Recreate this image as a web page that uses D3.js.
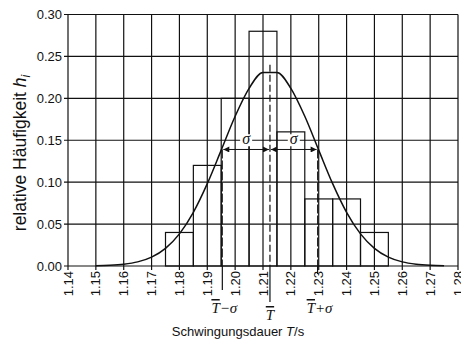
<!DOCTYPE html>
<html>
<head>
<meta charset="utf-8">
<script src="https://cdn.jsdelivr.net/npm/d3@7"></script>
<style>
  body { margin: 0; background: #fff; }
  svg { display: block; }
  text { font-family: "Liberation Sans", Arial, sans-serif; fill: #111; }
  .serif { font-family: "Liberation Serif", "Times New Roman", serif; font-style: italic; }
</style>
</head>
<body>
<div id="chart"></div>
<script>
// histogram: class centres and relative frequency
const binCenters = [1.18, 1.19, 1.20, 1.21, 1.22, 1.23, 1.24, 1.25];
const binFreq = [0.04, 0.12, 0.20, 0.28, 0.16, 0.08, 0.08, 0.04];
const binWidth = 0.01;

// fitted normal curve
const curveT = [1.150, 1.155, 1.160, 1.165, 1.170, 1.175, 1.180, 1.185, 1.190, 1.195,
                1.200, 1.205, 1.210, 1.215, 1.220, 1.225, 1.230, 1.235, 1.240, 1.245,
                1.250, 1.255, 1.260, 1.265, 1.270, 1.275];
const curveH = [0.0003, 0.0008, 0.0021, 0.0049, 0.0106, 0.0211, 0.0383, 0.0640, 0.0982, 0.1382,
                0.1786, 0.2119, 0.2308, 0.2308, 0.2119, 0.1786, 0.1382, 0.0982, 0.0640, 0.0383,
                0.0211, 0.0106, 0.0049, 0.0021, 0.0008, 0.0003];

const meanT = 1.2125;
const sigma = 0.0171;
const arrowLevel = 0.139;
const meanTop = 0.24;

const xTicks = d3.range(1.14, 1.2801, 0.01);
const yTicks = [0.00, 0.05, 0.10, 0.15, 0.20, 0.25, 0.30];

const width = 461, height = 342;
const svg = d3.select('#chart').append('svg')
    .attr('width', width)
    .attr('height', height);

const xs = d3.scaleLinear().domain([1.14, 1.28]).range([68, 458]);
const ys = d3.scaleLinear().domain([0, 0.30]).range([266, 14.5]);

const ink = '#111';

// grid
svg.append('g').selectAll('line.vg')
    .data(xTicks)
    .enter().append('line')
    .attr('x1', d => xs(d)).attr('x2', d => xs(d))
    .attr('y1', ys(0.30)).attr('y2', ys(0) + 4)
    .style('stroke', ink).style('stroke-width', '1.2px');

svg.append('g').selectAll('line.hg')
    .data(yTicks)
    .enter().append('line')
    .attr('x1', xs(1.14) - 4).attr('x2', xs(1.28))
    .attr('y1', d => ys(d)).attr('y2', d => ys(d))
    .style('stroke', ink).style('stroke-width', '1.2px');

// y tick labels
svg.append('g').selectAll('text')
    .data(yTicks)
    .enter().append('text')
    .attr('x', xs(1.14) - 6)
    .attr('y', d => ys(d))
    .attr('dy', '0.35em')
    .style('text-anchor', 'end')
    .style('font-size', '13px')
    .text(d => d3.format('.2f')(d));

// x tick labels, rotated
svg.append('g').selectAll('text')
    .data(xTicks)
    .enter().append('text')
    .attr('transform', d => 'translate(' + xs(d) + ',' + (ys(0) + 5) + ') rotate(-90)')
    .attr('dy', '0.35em')
    .style('text-anchor', 'end')
    .style('font-size', '13px')
    .text(d => d3.format('.2f')(d));

// histogram bars (outline only)
svg.append('g').selectAll('rect')
    .data(binCenters)
    .enter().append('rect')
    .attr('x', d => xs(d - binWidth / 2))
    .attr('width', d => xs(d + binWidth / 2) - xs(d - binWidth / 2))
    .attr('y', (d, i) => ys(binFreq[i]))
    .attr('height', (d, i) => ys(0) - ys(binFreq[i]))
    .style('fill', 'none')
    .style('stroke', ink)
    .style('stroke-width', '1.2px');

// normal curve
const curvePts = curveT.map((t, i) => [t, curveH[i]]);
const lineGenerator = d3.line()
    .x(d => xs(d[0]))
    .y(d => ys(d[1]))
    .curve(d3.curveMonotoneX);

svg.append('path')
    .datum(curvePts)
    .attr('d', lineGenerator)
    .style('fill', 'none')
    .style('stroke', ink)
    .style('stroke-width', '1.5px');

// mean and mean +- sigma markers
const tLo = meanT - sigma, tHi = meanT + sigma;

svg.append('line')
    .attr('x1', xs(meanT)).attr('x2', xs(meanT))
    .attr('y1', ys(meanTop)).attr('y2', ys(0))
    .style('stroke', ink).style('stroke-width', '1.2px')
    .style('stroke-dasharray', '7,3');
svg.append('line')
    .attr('x1', xs(meanT)).attr('x2', xs(meanT))
    .attr('y1', ys(0)).attr('y2', ys(0) + 36)
    .style('stroke', ink).style('stroke-width', '1.2px');

[tLo, tHi].forEach((t, i) => {
    svg.append('line')
        .attr('x1', xs(t)).attr('x2', xs(t))
        .attr('y1', ys(arrowLevel)).attr('y2', ys(0))
        .style('stroke', ink).style('stroke-width', '1px')
        .style('stroke-dasharray', '9,2');
    svg.append('line')
        .attr('x1', xs(t)).attr('x2', xs(t))
        .attr('y1', ys(0)).attr('y2', ys(0) + (i === 0 ? 24 : 8))
        .style('stroke', ink).style('stroke-width', '1.2px');
});

// sigma arrows
svg.append('defs').append('marker')
    .attr('id', 'arr')
    .attr('viewBox', '0 0 10 10')
    .attr('refX', 10).attr('refY', 5)
    .attr('markerWidth', 8).attr('markerHeight', 6)
    .attr('markerUnits', 'userSpaceOnUse')
    .attr('orient', 'auto-start-reverse')
    .append('path')
    .attr('d', 'M0,0 L10,5 L0,10 Z')
    .style('fill', ink);

const spans = [[tLo, meanT], [meanT, tHi]];
spans.forEach(s => {
    const x1 = xs(s[0]) + 1, x2 = xs(s[1]) - 1;
    svg.append('line')
        .attr('x1', x1).attr('x2', x2)
        .attr('y1', ys(arrowLevel)).attr('y2', ys(arrowLevel))
        .style('stroke', ink).style('stroke-width', '1px')
        .attr('marker-start', 'url(#arr)')
        .attr('marker-end', 'url(#arr)');

    const cx = (xs(s[0]) + xs(s[1])) / 2;
    svg.append('rect')
        .attr('x', cx - 6).attr('y', ys(0.15) - 6)
        .attr('width', 12).attr('height', 12)
        .style('fill', '#fff');
    svg.append('text')
        .attr('class', 'serif')
        .attr('x', cx).attr('y', ys(0.15) + 4)
        .style('text-anchor', 'middle')
        .style('font-size', '16px')
        .text('\u03c3');
});

// labels under the axis: T-bar, T-bar - sigma, T-bar + sigma
function tbarLabel(x, y, suffix) {
    const t = svg.append('text')
        .attr('class', 'serif')
        .attr('x', x).attr('y', y)
        .style('text-anchor', 'middle')
        .style('font-size', '15px');
    t.append('tspan').style('text-decoration', 'overline').text('T');
    if (suffix) t.append('tspan').text(suffix);
}
tbarLabel(xs(tLo) + 2, 313, '\u2212\u03c3');
tbarLabel(xs(meanT), 320, '');
tbarLabel(xs(tHi) + 2, 313, '+\u03c3');

// axis titles
const xTitle = svg.append('text')
    .attr('x', 238).attr('y', 336)
    .style('text-anchor', 'middle')
    .style('font-size', '13px');
xTitle.append('tspan').text('Schwingungsdauer ');
xTitle.append('tspan').style('font-style', 'italic').text('T');
xTitle.append('tspan').text('/s');

const yTitle = svg.append('text')
    .attr('transform', 'translate(26,' + 153 + ') rotate(-90)')
    .style('text-anchor', 'middle')
    .style('font-size', '17.5px');
yTitle.append('tspan').text('relative Häufigkeit ');
yTitle.append('tspan').style('font-style', 'italic').text('h');
yTitle.append('tspan').style('font-style', 'italic').style('font-size', '12px').attr('dy', '4').text('i');
</script>
</body>
</html>
